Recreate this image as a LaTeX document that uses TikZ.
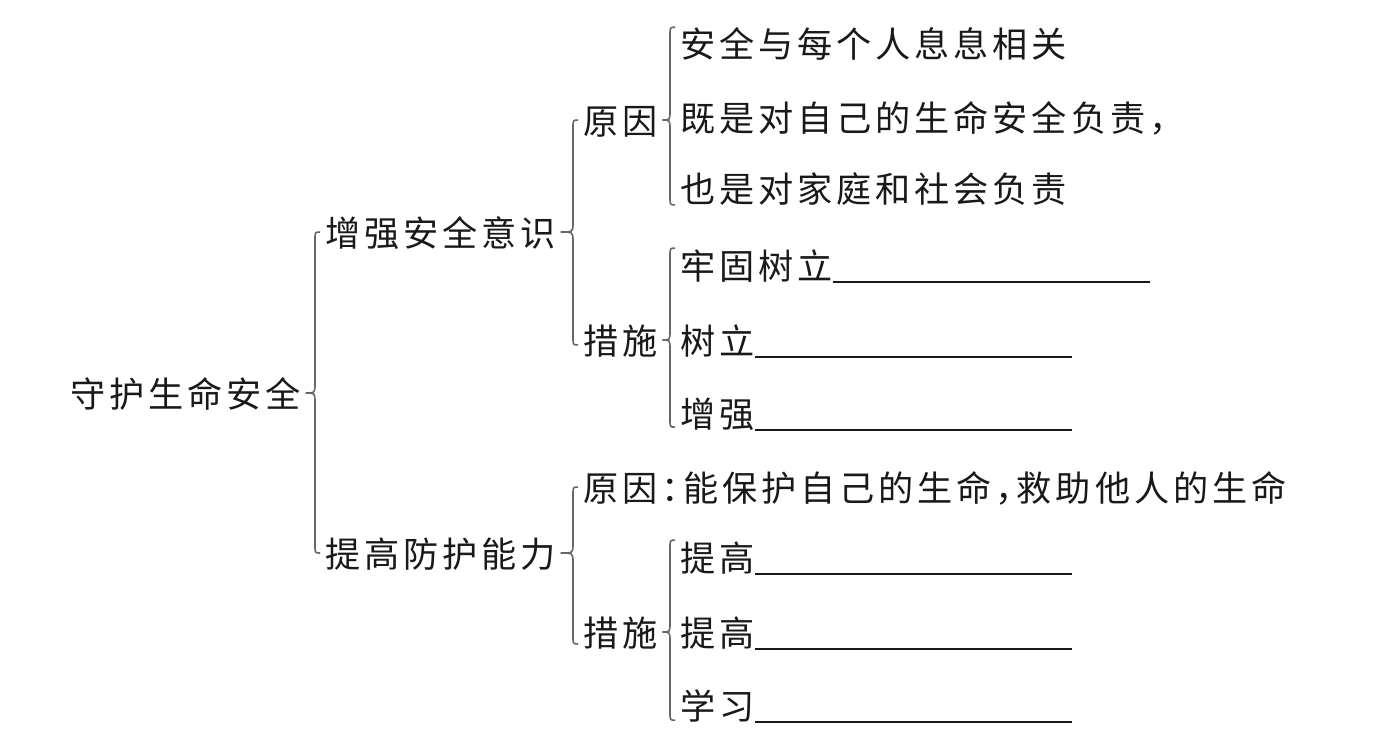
\documentclass[tikz,border=0pt]{standalone}
\usepackage{fontspec}
\setmainfont[LetterSpace=11,RawFeature=+halt]{Noto Sans CJK SC}
\usepackage{tikz}
\usetikzlibrary{calc}

% brace from parent (#1) to first (#2) and last (#3) child, #4/#5 = overhang at top/bottom
\newcommand{\kuohao}[5]{%
  \draw[kuo] let \p1=(#1.east), \p2=(#2.west), \p3=(#3.west) in
    (\x2-1.4pt,\y2+#4) .. controls (\x2-2.85pt,\y2+#4) .. (\x2-2.85pt,\y2+#4-2.3pt)
    -- (\x2-2.85pt,\y1+2.6pt) .. controls (\x2-2.85pt,\y1) .. (\x1+1.1pt,\y1)
    .. controls (\x2-2.85pt,\y1) .. (\x2-2.85pt,\y1-2.6pt)
    -- (\x2-2.85pt,\y3-#5+2.3pt) .. controls (\x2-2.85pt,\y3-#5) .. (\x2-1.4pt,\y3-#5);
}
\newcommand{\kong}{\rule[-1pt]{3.17cm}{0.45pt}}

\begin{document}
\begin{tikzpicture}[
  x=0.01cm, y=-0.01cm,
  every node/.style={font=\fontsize{10pt}{12pt}\selectfont, text=black!90,
    inner sep=0pt, anchor=west, text height=0.34cm, text depth=0.06cm},
  kuo/.style={draw=black!60, line width=0.45pt},
]
  \useasboundingbox (0,0) rectangle (1380,744);

  \node (gen) at (70,393) {守护生命安全};

  \node (zq) at (325,232) {增强安全意识};
  \node (tg) at (325,553) {提高防护能力};

  \node (zqyy) at (583,120) {原因};
  \node (zqcs) at (583,340) {措施};
  \node (tgyy) at (583,487) {原因：能保护自己的生命，救助他人的生命};
  \node (tgcs) at (583,632) {措施};

  \node (yy1) at (680,43) {安全与每个人息息相关};
  \node (yy2) at (680,117) {既是对自己的生命安全负责，};
  \node (yy3) at (680,188) {也是对家庭和社会负责};

  \node (cs1) at (680,265) {牢固树立\kong};
  \node (cs2) at (680,340) {树立\kong};
  \node (cs3) at (680,413) {增强\kong};

  \node (cs4) at (680,557) {提高\kong};
  \node (cs5) at (680,632) {提高\kong};
  \node (cs6) at (680,705) {学习\kong};

  \kuohao{gen}{zq}{tg}{0pt}{0pt}
  \kuohao{zq}{zqyy}{zqcs}{0pt}{1.4pt}
  \kuohao{tg}{tgyy}{tgcs}{0pt}{3.4pt}
  \kuohao{zqyy}{yy1}{yy3}{4.5pt}{4.8pt}
  \kuohao{zqcs}{cs1}{cs3}{4.8pt}{4pt}
  \kuohao{tgcs}{cs4}{cs6}{4.8pt}{4.3pt}
\end{tikzpicture}
\end{document}
